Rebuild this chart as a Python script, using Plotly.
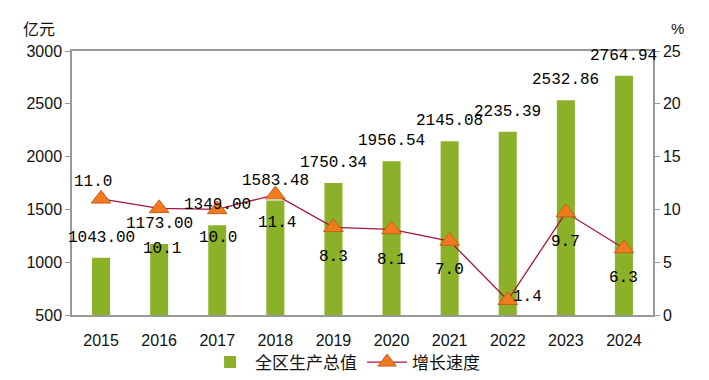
import plotly.graph_objects as go

years = ["2015", "2016", "2017", "2018", "2019", "2020", "2021", "2022", "2023", "2024"]
gdp = [1043.00, 1173.00, 1349.00, 1583.48, 1750.34, 1956.54, 2145.08, 2235.39, 2532.86, 2764.94]
growth = [11.0, 10.1, 10.0, 11.4, 8.3, 8.1, 7.0, 1.4, 9.7, 6.3]

gdp_labels = [f"{v:.2f}" for v in gdp]
growth_labels = [f"{v:.1f}" for v in growth]

# label offsets (pixels) for growth-rate labels, as placed in the original
growth_dx = [-8, 3, 1, 2, 0, 0, 0, 20, 0, 0]
growth_dy = [17, -41, -29, -28, -30, -31, -29, 3, -29, -30]

BAR = "#8AB128"
LINE = "#A8143F"
MARK = "#F07A1E"
NUMFONT = dict(family="Liberation Mono, DejaVu Sans Mono, monospace", size=16, color="#000")

fig = go.Figure()
fig.add_trace(go.Bar(
    x=years, y=gdp, name="全区生产总值", marker=dict(color=BAR, line=dict(width=0)),
    width=0.31, yaxis="y"))
fig.add_trace(go.Scatter(
    x=years, y=growth, name="增长速度", yaxis="y2", mode="lines+markers",
    line=dict(color=LINE, width=1.3),
    marker=dict(symbol="triangle-up", size=17, color=MARK, line=dict(color="#C8601A", width=1))))

ann = []
for i, (v, t) in enumerate(zip(gdp, gdp_labels)):
    ann.append(dict(x=i, y=v, xref="x", yref="y", text=t, showarrow=False,
                    yshift=20, font=NUMFONT))
for i, (v, t, dx, dy) in enumerate(zip(growth, growth_labels, growth_dx, growth_dy)):
    ann.append(dict(x=i, y=v, xref="x", yref="y2", text=t, showarrow=False,
                    xshift=dx, yshift=dy, font=NUMFONT))
ann.append(dict(x=0, y=1, xref="paper", yref="paper", text="亿元", showarrow=False,
                xanchor="right", yanchor="bottom", xshift=-15, yshift=9,
                font=dict(family="Noto Sans CJK SC", size=16, color="#111")))
ann.append(dict(x=1, y=1, xref="paper", yref="paper", text="%", showarrow=False,
                xanchor="left", yanchor="bottom", xshift=16, yshift=12,
                font=dict(family="Liberation Sans", size=15, color="#111")))

axfont = dict(family="Liberation Sans, Arial, sans-serif", size=16, color="#111")
fig.update_layout(
    width=701, height=372,
    margin=dict(l=64, r=56, t=43, b=65, autoexpand=False),
    plot_bgcolor="white", paper_bgcolor="white",
    showlegend=True,
    legend=dict(orientation="h", x=0.47, xanchor="center", y=-0.18, yanchor="middle",
                font=dict(family="Noto Sans CJK SC", size=17, color="#111"),
                itemwidth=40, traceorder="normal", bgcolor="rgba(0,0,0,0)"),
    xaxis=dict(type="category", range=[-0.5, 9.5], showgrid=False, showline=True,
               linecolor="#999", linewidth=1.5, mirror=True, ticks="", tickfont=axfont,
               ticklabelstandoff=10, automargin=False),
    yaxis=dict(range=[500, 3000], dtick=500, showgrid=False, showline=True, linecolor="#999",
               linewidth=1.5, ticks="outside", ticklen=5, tickcolor="#999",
               tickfont=axfont, zeroline=False, automargin=False),
    yaxis2=dict(range=[0, 25], dtick=5, overlaying="y", side="right", showgrid=False,
                showline=True, linecolor="#999", linewidth=1.5, ticks="outside", ticklen=5,
                tickcolor="#999", tickfont=axfont, zeroline=False, automargin=False),
    annotations=ann,
)
fig.write_html("out.html")
